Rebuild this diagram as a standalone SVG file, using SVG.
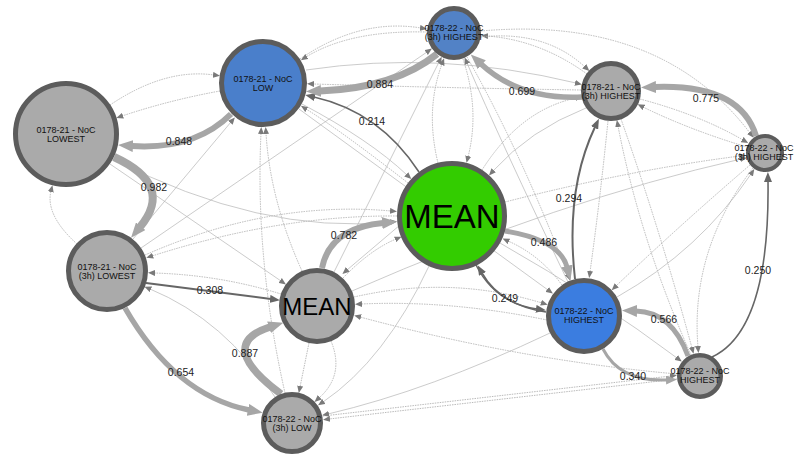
<svg xmlns="http://www.w3.org/2000/svg" width="801" height="467" viewBox="0 0 801 467">
<style>
.dot{fill:none;stroke:#a8a8a8;stroke-width:0.8;stroke-dasharray:1.5 1;marker-end:url(#ah-dot)}
.thin{fill:none;stroke:#b4b4b4;stroke-width:0.7;marker-end:url(#ah-dot)}
.thick{fill:none;stroke:#a6a6a6;marker-end:url(#ah-thick)}
.mid{fill:none;stroke:#a6a6a6;marker-end:url(#ah-mid)}
.dark{fill:none;stroke:#666;marker-end:url(#ah-dark)}
.node circle{stroke:#5c5c5c;stroke-width:5}
.gray{fill:#aaaaaa}
.lbl{font-family:"Liberation Sans",Arial,sans-serif;font-size:9px;text-anchor:middle;fill:#111}
.big{font-family:"Liberation Sans",Arial,sans-serif;text-anchor:middle;fill:#000}
.el{font-family:"Liberation Sans",Arial,sans-serif;font-size:10.5px;text-anchor:middle;fill:#222}
</style>
<defs>
<marker id="ah-thick" viewBox="0 0 15 12" markerWidth="15" markerHeight="12" refX="1" refY="6" orient="auto" markerUnits="userSpaceOnUse"><path d="M0,0 L15,6 L0,12 z" fill="#a6a6a6"/></marker>
<marker id="ah-mid" viewBox="0 0 11 9" markerWidth="11" markerHeight="9" refX="1" refY="4.5" orient="auto" markerUnits="userSpaceOnUse"><path d="M0,0 L11,4.5 L0,9 z" fill="#a6a6a6"/></marker>
<marker id="ah-dark" viewBox="0 0 10 8" markerWidth="10" markerHeight="8" refX="1" refY="4" orient="auto" markerUnits="userSpaceOnUse"><path d="M0,0 L10,4 L0,8 z" fill="#666"/></marker>
<marker id="ah-dot" viewBox="0 0 7 6" markerWidth="7" markerHeight="6" refX="1" refY="3" orient="auto" markerUnits="userSpaceOnUse"><path d="M0,0 L7,3 L0,6 z" fill="#7a7a7a"/></marker>
</defs>
<rect width="801" height="467" fill="#fff"/>
<g id="connectors">
<path class="dot" d="M110,105 Q165,68 214,75"/>
<path class="dot" d="M220,91 Q170,100 122,116"/>
<path class="dot" d="M300,59 Q360,18 421,28"/>
<path class="dot" d="M427,32 Q350,30 306,57"/>
<path class="dot" d="M302,271 Q270,200 266,133"/>
<path class="dot" d="M285,393 Q255,260 261,133"/>
<path class="dot" d="M408,183 Q340,130 306,109"/>
<path class="thin" d="M133,239 L231,122"/>
<path class="thin" d="M110,164 L281,281"/>
<path class="dot" d="M145,255 Q270,200 391,211"/>
<path class="thin" d="M113,159 Q260,235 391,222"/>
<path class="dot" d="M281,294 Q220,275 154,273"/>
<path class="thin" d="M275,397 Q225,320 150,289"/>
<path class="dot" d="M77,244 Q45,215 51,191"/>
<path class="dot" d="M343,278 Q370,250 396,239"/>
<path class="dot" d="M547,320 Q450,300 361,304"/>
<path class="dot" d="M677,374 Q520,360 360,317"/>
<path class="dot" d="M354,297 Q450,275 542,303"/>
<path class="dot" d="M677,379 L329,419"/>
<path class="dot" d="M323,416 L671,376"/>
<path class="dot" d="M309,343 L300,387"/>
<path class="dot" d="M331,341 Q345,375 319,398"/>
<path class="thin" d="M429,266 Q385,360 323,402"/>
<path class="thin" d="M550,333 Q430,390 328,414"/>
<path class="dot" d="M505,202 Q630,170 740,156"/>
<path class="thin" d="M586,108 Q530,130 493,171"/>
<path class="dot" d="M562,285 Q540,255 508,241"/>
<path class="thin" d="M500,243 Q600,300 677,358"/>
<path class="dot" d="M750,165 Q680,225 616,286"/>
<path class="thin" d="M617,297 Q700,250 751,174"/>
<path class="dot" d="M753,168 Q690,250 698,347"/>
<path class="dot" d="M621,119 Q660,230 692,348"/>
<path class="dot" d="M691,355 Q640,240 618,126"/>
<path class="dot" d="M608,121 Q600,200 590,272"/>
<path class="dot" d="M467,57 Q520,150 568,275"/>
<path class="thin" d="M568,282 Q500,140 467,63"/>
<path class="dot" d="M587,74 Q540,40 487,36"/>
<path class="dot" d="M481,31 Q660,15 750,133"/>
<path class="dot" d="M581,90 Q450,88 313,84"/>
<path class="thin" d="M306,70 Q440,50 576,83"/>
<path class="dot" d="M481,37 Q545,30 585,67"/>
<path class="thin" d="M302,104 Q370,140 407,175"/>
<path class="thin" d="M334,272 L439,62"/>
<path class="thin" d="M141,248 L427,52"/>
<path class="dot" d="M482,170 Q520,110 576,98"/>
<path class="dot" d="M397,216 Q280,215 152,256"/>
<path class="thin" d="M352,291 Q560,200 741,159"/>
<path class="dot" d="M747,147 Q690,130 643,107"/>
<path class="dot" d="M640,99 Q700,115 743,140"/>
<path class="thin" d="M299,109 L548,290"/>
<path class="dot" d="M438,163 Q425,110 442,64"/>
<path class="dot" d="M463,59 Q480,110 468,157"/>
<path class="thin" d="M400,225 L347,270"/>

<path class="dark" stroke-width="1.6" d="M419,172 Q380,112 314,97"/>
<path class="dark" stroke-width="2" d="M146,283 L271,299"/>
<path class="dark" stroke-width="2" d="M575,279 Q565,190 595,127"/>
<path class="dark" stroke-width="1.6" d="M546,312 Q500,305 482,273"/>
<path class="dark" stroke-width="1.4" d="M476,265 Q495,303 537,309"/>
<path class="dark" stroke-width="1.6" d="M712,357 Q770,330 768,181"/>

<path class="thick" stroke-width="7" d="M437,54 Q395,88 320,91"/>
<path class="thick" stroke-width="5.5" d="M582,97 Q520,100 481,64"/>
<path class="thick" stroke-width="6" d="M756,136 Q740,84 655,87"/>
<path class="thick" stroke-width="6" d="M231,114 Q195,150 132,146"/>
<path class="thick" stroke-width="8" d="M114,157 Q175,185 140,227"/>
<path class="thick" stroke-width="6" d="M322,268 Q330,228 383,223"/>
<path class="thick" stroke-width="7.5" d="M281,394 Q215,345 270,327"/>
<path class="thick" stroke-width="5.5" d="M125,308 Q175,395 249,410"/>
<path class="thick" stroke-width="5" d="M505,231 Q560,240 567,267"/>
<path class="thick" stroke-width="5" d="M688,356 Q672,312 636,311"/>
<path class="mid" stroke-width="3" d="M603,349 Q620,382 667,380"/>
</g>
<g id="n-22-3h-highest-top" class="node"><circle cx="454" cy="33" r="24.5" fill="#5282c6"/><text class="lbl" x="454" y="31">0178-22 - NoC</text><text class="lbl" x="454" y="39.5">(3h) HIGHEST</text></g>
<g id="n-21-low" class="node"><circle cx="263" cy="83" r="41.5" fill="#4a7fcb"/><text class="lbl" x="263" y="82">0178-21 - NoC</text><text class="lbl" x="263" y="91">LOW</text></g>
<g id="n-21-lowest" class="node"><circle cx="66" cy="134" r="50.5" class="gray"/><text class="lbl" x="66" y="133">0178-21 - NoC</text><text class="lbl" x="66" y="142">LOWEST</text></g>
<g id="n-21-3h-highest" class="node"><circle cx="611" cy="91" r="27.5" class="gray"/><text class="lbl" x="611" y="90">0178-21 - NoC</text><text class="lbl" x="611" y="99">(3h) HIGHEST</text></g>
<g id="n-22-3h-highest-right" class="node"><circle cx="765" cy="153" r="17" class="gray" style="stroke-width:4"/><text class="lbl" x="764" y="151">0178-22 - NoC</text><text class="lbl" x="764" y="160">(3h) HIGHEST</text></g>
<g id="n-mean-green" class="node"><circle cx="452" cy="216" r="52.5" fill="#33cc00"/><text class="big" x="452" y="228" font-size="33">MEAN</text></g>
<g id="n-21-3h-lowest" class="node"><circle cx="107" cy="271" r="38.5" class="gray"/><text class="lbl" x="107" y="270">0178-21 - NoC</text><text class="lbl" x="107" y="279">(3h) LOWEST</text></g>
<g id="n-mean-gray" class="node"><circle cx="317" cy="306" r="35.5" class="gray"/><text class="big" x="317" y="315" font-size="24">MEAN</text></g>
<g id="n-22-highest-blue" class="node"><circle cx="584" cy="316" r="35.5" fill="#3b7de0"/><text class="lbl" x="584" y="314">0178-22 - NoC</text><text class="lbl" x="584" y="323">HIGHEST</text></g>
<g id="n-22-highest-gray" class="node"><circle cx="700" cy="376" r="20.75" class="gray" style="stroke-width:4.5"/><text class="lbl" x="700" y="374">0178-22 - NoC</text><text class="lbl" x="700" y="383">HIGHEST</text></g>
<g id="n-22-3h-low" class="node"><circle cx="292" cy="423" r="28.5" class="gray"/><text class="lbl" x="292" y="422">0178-22 - NoC</text><text class="lbl" x="292" y="431">(3h) LOW</text></g>
<g id="edge-labels">
<text class="el" x="380" y="88">0.884</text>
<text class="el" x="522" y="95">0.699</text>
<text class="el" x="706" y="102">0.775</text>
<text class="el" x="179" y="145">0.848</text>
<text class="el" x="154" y="191">0.982</text>
<text class="el" x="344" y="239">0.782</text>
<text class="el" x="210" y="294">0.308</text>
<text class="el" x="245" y="357">0.887</text>
<text class="el" x="181" y="376">0.654</text>
<text class="el" x="372" y="125">0.214</text>
<text class="el" x="544" y="246">0.486</text>
<text class="el" x="569" y="202">0.294</text>
<text class="el" x="505" y="302">0.249</text>
<text class="el" x="664" y="323">0.566</text>
<text class="el" x="633" y="380">0.340</text>
<text class="el" x="758" y="274">0.250</text>
</g>
</svg>
